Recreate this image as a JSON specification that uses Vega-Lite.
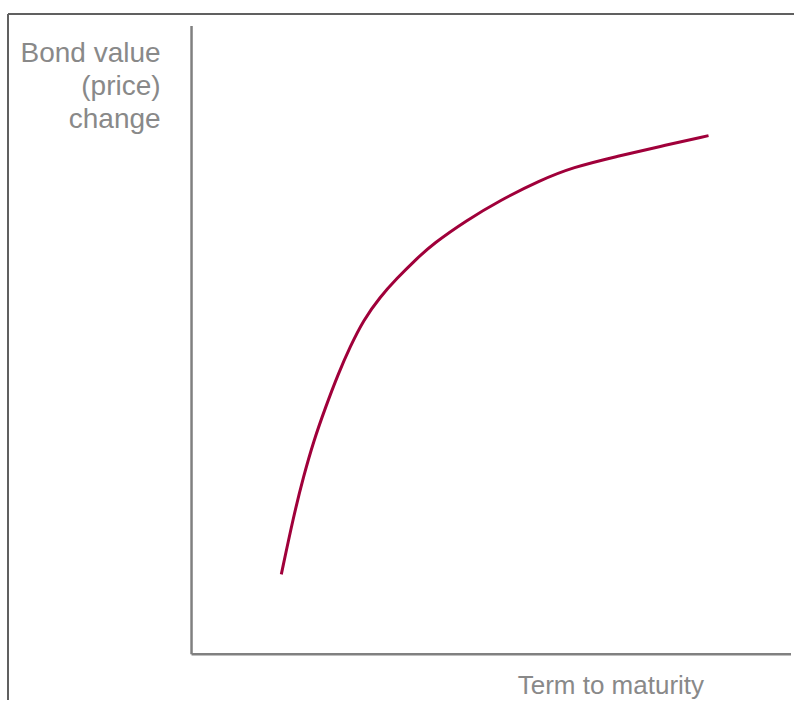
{
  "$schema": "https://vega.github.io/schema/vega-lite/v6.json",
  "width": 795,
  "height": 701,
  "autosize": {"type": "fit", "contains": "padding"},
  "padding": {"left": 7, "top": 13, "right": 0, "bottom": 0},
  "background": "white",
  "config": {"view": {"stroke": null}},
  "layer": [
    {
      "data": {"values": [{}]},
      "mark": {"type": "rule", "color": "#606060", "strokeWidth": 2},
      "encoding": {
        "y": {"datum": 64.2, "type": "quantitative", "scale": {"domain": [-4.6, 64.2], "nice": false, "zero": false}, "axis": null}
      }
    },
    {
      "data": {"values": [{}]},
      "mark": {"type": "rule", "color": "#606060", "strokeWidth": 2},
      "encoding": {
        "x": {"datum": -18.4, "type": "quantitative", "scale": {"domain": [-18.4, 60.4], "nice": false, "zero": false}, "axis": null}
      }
    },
    {
      "data": {"values": [{}]},
      "mark": {"type": "rule", "color": "#808080", "strokeWidth": 2.5},
      "encoding": {
        "x": {"datum": 0, "type": "quantitative", "scale": {"domain": [-18.4, 60.4], "nice": false, "zero": false}, "axis": null},
        "y": {"datum": 0, "type": "quantitative", "scale": {"domain": [-4.6, 64.2], "nice": false, "zero": false}, "axis": null},
        "y2": {"datum": 63}
      }
    },
    {
      "data": {"values": [{}]},
      "mark": {"type": "rule", "color": "#808080", "strokeWidth": 2.5},
      "encoding": {
        "x": {"datum": 0, "type": "quantitative", "scale": {"domain": [-18.4, 60.4], "nice": false, "zero": false}, "axis": null},
        "x2": {"datum": 60.1},
        "y": {"datum": 0, "type": "quantitative", "scale": {"domain": [-4.6, 64.2], "nice": false, "zero": false}, "axis": null}
      }
    },
    {
      "data": {"values": [
        {"term": 9.0, "change": 8.0},
        {"term": 10.23, "change": 13.83},
        {"term": 11.23, "change": 17.83},
        {"term": 12.23, "change": 21.33},
        {"term": 13.4, "change": 24.67},
        {"term": 14.73, "change": 28.17},
        {"term": 15.9, "change": 30.83},
        {"term": 17.23, "change": 33.5},
        {"term": 18.9, "change": 35.83},
        {"term": 20.57, "change": 37.67},
        {"term": 22.4, "change": 39.5},
        {"term": 24.23, "change": 41.17},
        {"term": 27.57, "change": 43.5},
        {"term": 30.9, "change": 45.5},
        {"term": 34.9, "change": 47.5},
        {"term": 38.23, "change": 48.83},
        {"term": 42.57, "change": 49.9},
        {"term": 46.9, "change": 50.9},
        {"term": 51.83, "change": 52.0}
      ]},
      "mark": {"type": "line", "color": "#a0003a", "strokeWidth": 3, "interpolate": "basis"},
      "encoding": {
        "x": {"field": "term", "type": "quantitative", "scale": {"domain": [-18.4, 60.4], "nice": false, "zero": false}, "axis": null},
        "y": {"field": "change", "type": "quantitative", "scale": {"domain": [-4.6, 64.2], "nice": false, "zero": false}, "axis": null}
      }
    },
    {
      "data": {"values": [{}]},
      "mark": {"type": "text", "text": "Bond value\n(price)\nchange", "lineBreak": "\n", "lineHeight": 33, "align": "right", "baseline": "alphabetic", "font": "Liberation Sans", "fontSize": 28, "color": "#898989"},
      "encoding": {
        "x": {"datum": -3.1, "type": "quantitative", "scale": {"domain": [-18.4, 60.4], "nice": false, "zero": false}, "axis": null},
        "y": {"datum": 59.4, "type": "quantitative", "scale": {"domain": [-4.6, 64.2], "nice": false, "zero": false}, "axis": null}
      }
    },
    {
      "data": {"values": [{}]},
      "mark": {"type": "text", "text": "Term to maturity", "align": "left", "baseline": "alphabetic", "font": "Liberation Sans", "fontSize": 26, "color": "#898989"},
      "encoding": {
        "x": {"datum": 32.7, "type": "quantitative", "scale": {"domain": [-18.4, 60.4], "nice": false, "zero": false}, "axis": null},
        "y": {"datum": -3.97, "type": "quantitative", "scale": {"domain": [-4.6, 64.2], "nice": false, "zero": false}, "axis": null}
      }
    }
  ]
}
